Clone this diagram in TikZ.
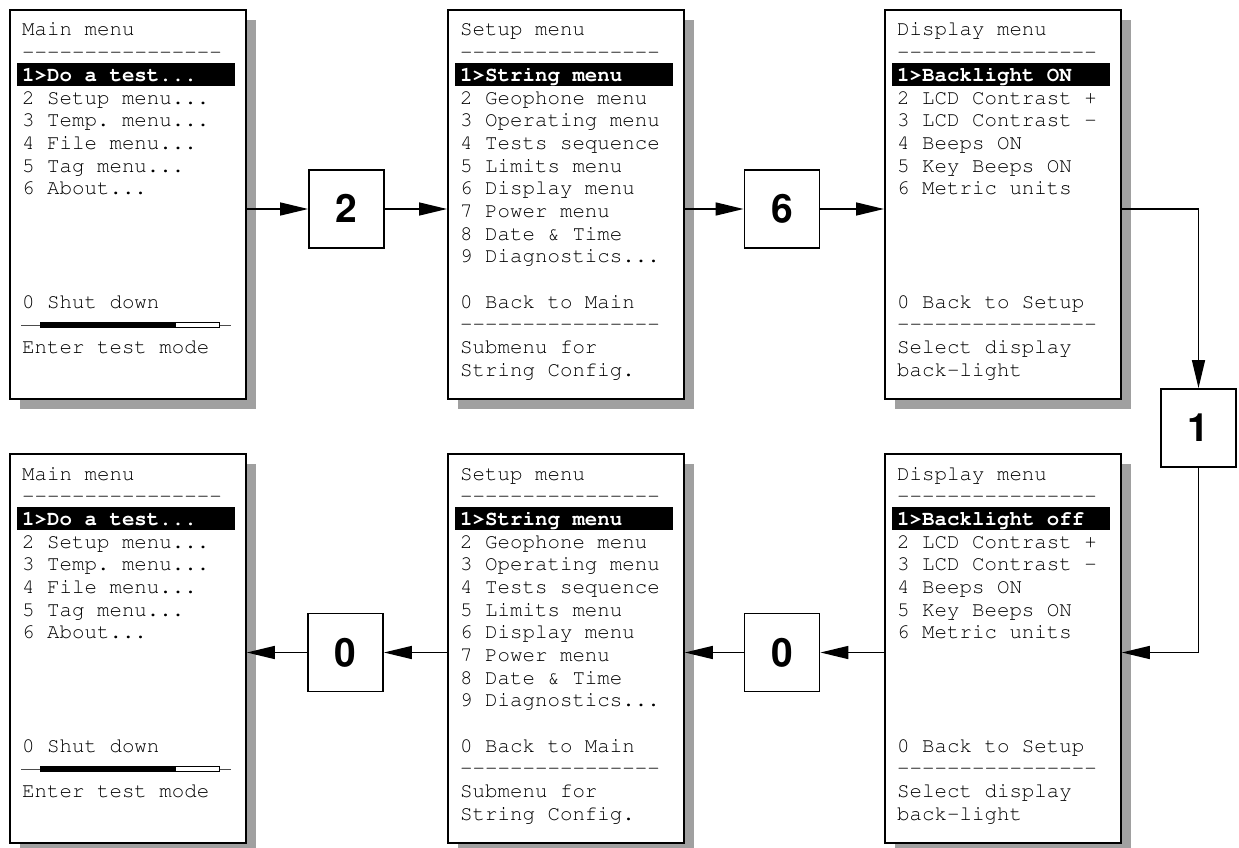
\documentclass[tikz,border=0pt]{standalone}
\usepackage[T1]{fontenc}
\usetikzlibrary{shadows,arrows.meta}
\definecolor{shadowgray}{RGB}{160,160,160}
\newcommand{\mdots}{...}
\newcommand{\lcdrule}{-{}-{}-{}-{}-{}-{}-{}-{}-{}-{}-{}-{}-{}-{}-{}-}
\newcommand{\lcdfont}{\fontfamily{pcr}\fontsize{20.8}{22}\selectfont\frenchspacing}
\begin{document}
\begin{tikzpicture}[x=1pt,y=-1pt]
    \tikzstyle{screen}=[draw, line width=1.8pt, fill=white, anchor=north west,
        minimum width=236pt, minimum height=389pt,
        drop shadow={shadow xshift=10pt, shadow yshift=-10pt, fill=shadowgray, opacity=1}]
    \tikzstyle{line}=[anchor=base west, inner sep=0pt, font=\lcdfont]
    \tikzstyle{sel}=[line, text=white, font=\lcdfont\bfseries]
    \tikzstyle{key}=[draw, line width=1.8pt, fill=white, minimum width=75pt, minimum height=78pt,
        font=\fontfamily{phv}\bfseries\fontsize{39}{40}\selectfont]
    \tikzstyle{arr}=[line width=1.5pt, -{Triangle[length=28pt,width=13pt]}]
    \useasboundingbox (0,0) rectangle (1239,848);

    % main menu
    \foreach \s/\x/\y in {main1/9/9, main2/9/453} {
        \node[screen] (\s) at (\x,\y) {};
        \begin{scope}[shift={(\s.north west)}]
            \fill (8,54) rectangle (226,77);
            \node[sel] (\s-2) at (13,27+2*22.67) {1>Do a test...};
            \foreach \r/\t in {0/Main menu, 1/\lcdrule, 3/2 Setup menu\mdots,
                4/3 Temp. menu\mdots, 5/4 File menu\mdots, 6/5 Tag menu\mdots, 7/6 About\mdots,
                12/0 Shut down, 14/Enter test mode}
                \node[line] (\s-\r) at (13,27+22.67*\r) {\t};
            \draw[line width=1pt, black!70] (12,316) -- (222,316);
            \filldraw[fill=white, line width=0.8pt] (31,313.5) rectangle (210,318.5);
            \fill (31,313.5) rectangle (167,318.5);
        \end{scope}
    }

    % setup menu
    \foreach \s/\x/\y in {setup1/447/9, setup2/447/453} {
        \node[screen] (\s) at (\x,\y) {};
        \begin{scope}[shift={(\s.north west)}]
            \fill (8,54) rectangle (226,77);
            \node[sel] (\s-2) at (13,27+2*22.67) {1>String menu};
            \foreach \r/\t in {0/Setup menu, 1/\lcdrule, 3/2 Geophone menu,
                4/3 Operating menu, 5/4 Tests sequence, 6/5 Limits menu,
                7/6 Display menu, 8/7 Power menu, 9/8 Date \& Time, 10/9 Diagnostics\mdots,
                12/0 Back to Main, 13/\lcdrule, 14/Submenu for, 15/String Config.}
                \node[line] (\s-\r) at (13,27+22.67*\r) {\t};
        \end{scope}
    }

    % display menu
    \foreach \s/\x/\y/\bl in {disp1/884/9/ON, disp2/884/453/off} {
        \node[screen] (\s) at (\x,\y) {};
        \begin{scope}[shift={(\s.north west)}]
            \fill (8,54) rectangle (226,77);
            \node[sel] (\s-2) at (13,27+2*22.67) {1>Backlight \bl};
            \foreach \r/\t in {0/Display menu, 1/\lcdrule, 3/2 LCD Contrast +,
                4/3 LCD Contrast -, 5/4 Beeps ON, 6/5 Key Beeps ON, 7/6 Metric units,
                12/0 Back to Setup, 13/\lcdrule, 14/Select display, 15/back-light}
                \node[line] (\s-\r) at (13,27+22.67*\r) {\t};
        \end{scope}
    }

    % keys
    \node[key] (key2) at (346.5,209) {2};
    \node[key] (key6) at (782,209) {6};
    \node[key] (key1) at (1198.5,428) {1};
    \node[key] (key0b) at (782,652.5) {0};
    \node[key] (key0a) at (345.5,652.5) {0};

    \draw[arr] (main1.east |- key2) -- (key2.west);
    \draw[arr] (key2.east) -- (setup1.west |- key2);
    \draw[arr] (setup1.east |- key6) -- (key6.west);
    \draw[arr] (key6.east) -- (disp1.west |- key6);
    \draw[arr] (disp1.east |- key6) -| (key1.north);
    \draw[arr] (key1.south) |- (disp2.east |- key0b);
    \draw[arr] (disp2.west |- key0b) -- (key0b.east);
    \draw[arr] (key0b.west) -- (setup2.east |- key0b);
    \draw[arr] (setup2.west |- key0a) -- (key0a.east);
    \draw[arr] (key0a.west) -- (main2.east |- key0a);
\end{tikzpicture}
\end{document}
